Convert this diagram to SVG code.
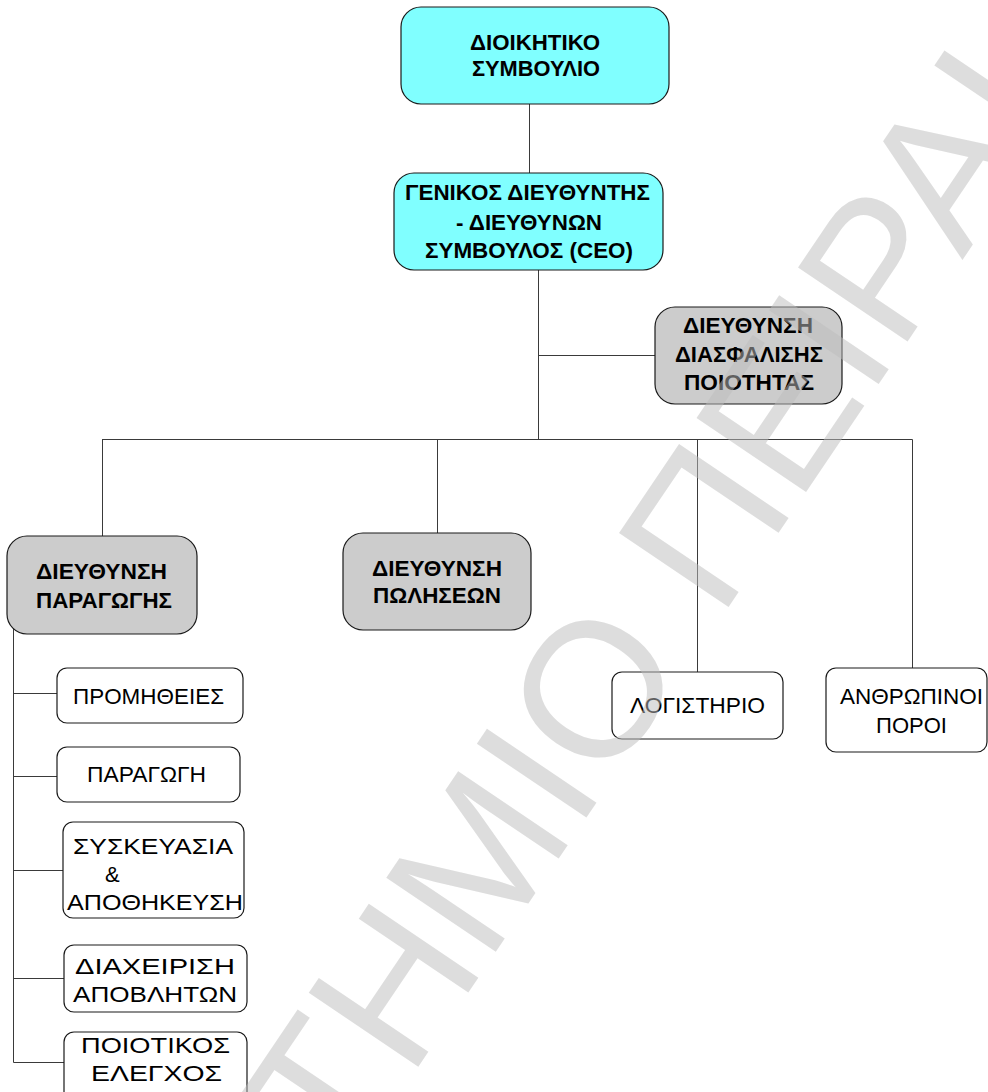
<svg xmlns="http://www.w3.org/2000/svg" width="988" height="1092" viewBox="0 0 988 1092">
<style>
.box{stroke:#1a1a1a;stroke-width:1.2}
.cyan{fill:#80ffff}
.gray{fill:#cccccc}
.white{fill:#ffffff}
.con{stroke:#3a3a3a;stroke-width:1;fill:none}
.b{font-family:"Liberation Sans",Arial,sans-serif;font-weight:bold;font-size:22px;fill:#000}
.r{font-family:"Liberation Sans",Arial,sans-serif;font-size:22px;fill:#000}
.wm{font-family:"Liberation Sans",Arial,sans-serif;font-size:192px;fill:#bcbcbc;fill-opacity:0.51}
</style>
<rect width="988" height="1092" fill="#ffffff"/>
<g id="connectors">
<path class="con" d="M529.5 104 V173"/>
<path class="con" d="M538.5 270 V439.5"/>
<path class="con" d="M538.5 355.5 H655"/>
<path class="con" d="M102 439.5 H912.5"/>
<path class="con" d="M102.5 439.5 V536"/>
<path class="con" d="M437.5 439.5 V533"/>
<path class="con" d="M697.5 439.5 V672"/>
<path class="con" d="M912.5 439.5 V668"/>
<path class="con" d="M13.5 628 V1062.5"/>
<path class="con" d="M13.5 693.5 H57"/>
<path class="con" d="M13.5 776.5 H57"/>
<path class="con" d="M13.5 870.5 H63"/>
<path class="con" d="M13.5 978.5 H64"/>
<path class="con" d="M13.5 1062.5 H64"/>
</g>
<g id="board">
<rect class="box cyan" x="401" y="7" width="268" height="97" rx="20"/>
<text class="b" x="470" y="50" textLength="130" lengthAdjust="spacingAndGlyphs">ΔΙΟΙΚΗΤΙΚΟ</text>
<text class="b" x="472" y="76" textLength="128" lengthAdjust="spacingAndGlyphs">ΣΥΜΒΟΥΛΙΟ</text>
</g>
<g id="ceo">
<rect class="box cyan" x="394" y="173" width="269" height="97" rx="20"/>
<text class="b" x="405" y="200" textLength="245" lengthAdjust="spacingAndGlyphs">ΓΕΝΙΚΟΣ ΔΙΕΥΘΥΝΤΗΣ</text>
<text class="b" x="456" y="230" textLength="146" lengthAdjust="spacingAndGlyphs">- ΔΙΕΥΘΥΝΩΝ</text>
<text class="b" x="425" y="258" textLength="208" lengthAdjust="spacingAndGlyphs">ΣΥΜΒΟΥΛΟΣ (CEO)</text>
</g>
<g id="qa">
<rect class="box gray" x="655" y="307" width="187" height="97" rx="20"/>
<text class="b" x="683" y="333" textLength="130" lengthAdjust="spacingAndGlyphs">ΔΙΕΥΘΥΝΣΗ</text>
<text class="b" x="675" y="362" textLength="148" lengthAdjust="spacingAndGlyphs">ΔΙΑΣΦΑΛΙΣΗΣ</text>
<text class="b" x="684" y="390" textLength="130" lengthAdjust="spacingAndGlyphs">ΠΟΙΟΤΗΤΑΣ</text>
</g>
<g id="production">
<rect class="box gray" x="7" y="536" width="190" height="98" rx="20"/>
<text class="b" x="36" y="579" textLength="131" lengthAdjust="spacingAndGlyphs">ΔΙΕΥΘΥΝΣΗ</text>
<text class="b" x="36" y="608" textLength="136" lengthAdjust="spacingAndGlyphs">ΠΑΡΑΓΩΓΗΣ</text>
</g>
<g id="sales">
<rect class="box gray" x="343" y="533" width="188" height="97" rx="20"/>
<text class="b" x="372" y="576" textLength="130" lengthAdjust="spacingAndGlyphs">ΔΙΕΥΘΥΝΣΗ</text>
<text class="b" x="373" y="603" textLength="128" lengthAdjust="spacingAndGlyphs">ΠΩΛΗΣΕΩΝ</text>
</g>
<g id="accounting">
<rect class="box white" x="612" y="672" width="171" height="67" rx="10"/>
<text class="r" x="630" y="713" textLength="135" lengthAdjust="spacingAndGlyphs">ΛΟΓΙΣΤΗΡΙΟ</text>
</g>
<g id="hr">
<rect class="box white" x="826" y="668" width="161" height="84" rx="10"/>
<text class="r" x="840" y="704" textLength="143" lengthAdjust="spacingAndGlyphs">ΑΝΘΡΩΠΙΝΟΙ</text>
<text class="r" x="876" y="733" textLength="71" lengthAdjust="spacingAndGlyphs">ΠΟΡΟΙ</text>
</g>
<g id="supplies">
<rect class="box white" x="57" y="668" width="186" height="55" rx="10"/>
<text class="r" x="73" y="704" textLength="151" lengthAdjust="spacingAndGlyphs">ΠΡΟΜΗΘΕΙΕΣ</text>
</g>
<g id="manufacturing">
<rect class="box white" x="57" y="747" width="183" height="55" rx="10"/>
<text class="r" x="87" y="782" textLength="119" lengthAdjust="spacingAndGlyphs">ΠΑΡΑΓΩΓΗ</text>
</g>
<g id="packaging">
<rect class="box white" x="63" y="822" width="181" height="96" rx="10"/>
<text class="r" x="73" y="854" textLength="160" lengthAdjust="spacingAndGlyphs">ΣΥΣΚΕΥΑΣΙΑ</text>
<text class="r" x="105" y="882">&amp;</text>
<text class="r" x="67" y="910" textLength="176" lengthAdjust="spacingAndGlyphs">ΑΠΟΘΗΚΕΥΣΗ</text>
</g>
<g id="waste">
<rect class="box white" x="64" y="945" width="183" height="67" rx="10"/>
<text class="r" x="75" y="974" textLength="160" lengthAdjust="spacingAndGlyphs">ΔΙΑΧΕΙΡΙΣΗ</text>
<text class="r" x="73" y="1002" textLength="164" lengthAdjust="spacingAndGlyphs">ΑΠΟΒΛΗΤΩΝ</text>
</g>
<g id="quality-control">
<rect class="box white" x="64" y="1032" width="183" height="75" rx="10"/>
<text class="r" x="81" y="1053" textLength="149" lengthAdjust="spacingAndGlyphs">ΠΟΙΟΤΙΚΟΣ</text>
<text class="r" x="91" y="1081" textLength="131" lengthAdjust="spacingAndGlyphs">ΕΛΕΓΧΟΣ</text>
</g>
<text class="wm" transform="translate(344,1177) rotate(-56)">ΤΗΜΙΟ ΠΕΙΡΑΙ</text>
</svg>
